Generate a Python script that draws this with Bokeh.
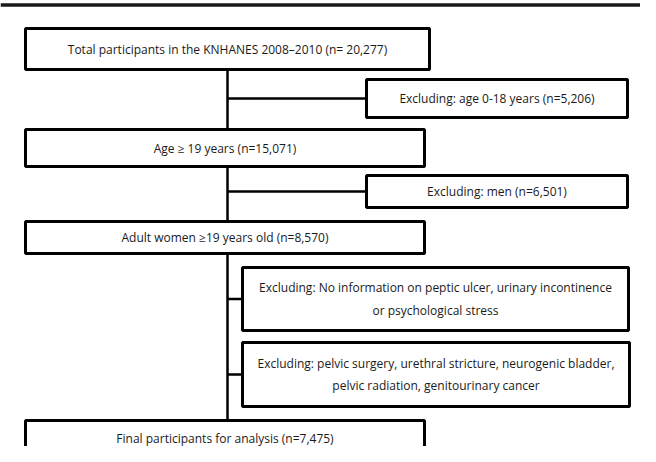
from bokeh.plotting import figure
from bokeh.models import Range1d, ColumnDataSource
from bokeh.core.properties import value
from bokeh.embed import file_html
from bokeh.resources import INLINE

# ---- data: flowchart labels and counts ----
main_labels = [
    "Total participants in the KNHANES 2008\u20132010 (n= 20,277)",
    "Age \u2265 19 years (n=15,071)",
    "Adult women \u226519 years old (n=8,570)",
    "Final participants for analysis (n=7,475)",
]
excl_labels = [
    "Excluding: age 0-18 years (n=5,206)",
    "Excluding: men (n=6,501)",
    "Excluding: No information on peptic ulcer, urinary incontinence\nor psychological stress",
    "Excluding: pelvic surgery, urethral stricture, neurogenic bladder,\npelvic radiation, genitourinary cancer",
]

# ---- layout (pixel-like coordinates, y downwards) ----
main_left = [33, 33, 33, 33]
main_right = [437, 432, 432, 432]
main_top = [36, 137, 229, 428]
main_bottom = [77, 174, 261, 475]

excl_left = [374, 374, 250, 250]
excl_right = [635, 635, 636, 637]
excl_top = [87, 183, 275, 350]
excl_bottom = [125, 215, 338, 414]

spine_x = 235

FONT = "Open Sans"

p = figure(width=640, height=446, output_backend="svg", toolbar_location=None,
           x_range=Range1d(8, 648), y_range=Range1d(454, 8),
           min_border=0, min_border_left=0, min_border_right=0,
           min_border_top=0, min_border_bottom=0)
p.axis.visible = False
p.grid.visible = False
p.outline_line_color = None
p.background_fill_color = "white"

# top rule
p.segment(x0=[8], y0=[12.5], x1=[656], y1=[12.5], line_color="#1a1a1a", line_width=3.5)

# spine
p.segment(x0=[spine_x], y0=[main_bottom[0]], x1=[spine_x], y1=[main_top[3]],
          line_color="black", line_width=2.5)

# connectors to exclusion boxes
conn_y = [(t + b) / 2 for t, b in zip(excl_top, excl_bottom)]
p.segment(x0=[spine_x] * 4, y0=conn_y, x1=excl_left, y1=conn_y,
          line_color="black", line_width=2.5)

# boxes
p.quad(left=main_left, right=main_right, top=main_top, bottom=main_bottom,
       fill_color="white", line_color="black", line_width=3)
p.quad(left=excl_left, right=excl_right, top=excl_top, bottom=excl_bottom,
       fill_color="white", line_color="black", line_width=3)

# texts
mx = [(l + r) / 2 for l, r in zip(main_left, main_right)]
my = [(t + b) / 2 for t, b in zip(main_top, main_bottom)]
my[3] = 446
src_m = ColumnDataSource(dict(x=mx, y=my, t=main_labels))
p.text(x="x", y="y", text="t", source=src_m, text_align="center",
       text_baseline="middle", text_font=value(FONT), text_font_size="12px",
       text_color="#1a1a1a")

ex = [(l + r) / 2 for l, r in zip(excl_left, excl_right)]
ey = conn_y
src_e = ColumnDataSource(dict(x=ex, y=ey, t=excl_labels))
p.text(x="x", y="y", text="t", source=src_e, text_align="center",
       text_baseline="middle", text_font=value(FONT), text_font_size="12px",
       text_color="#1a1a1a", text_line_height=1.3)

open("out.html", "w").write(file_html(p, INLINE))
